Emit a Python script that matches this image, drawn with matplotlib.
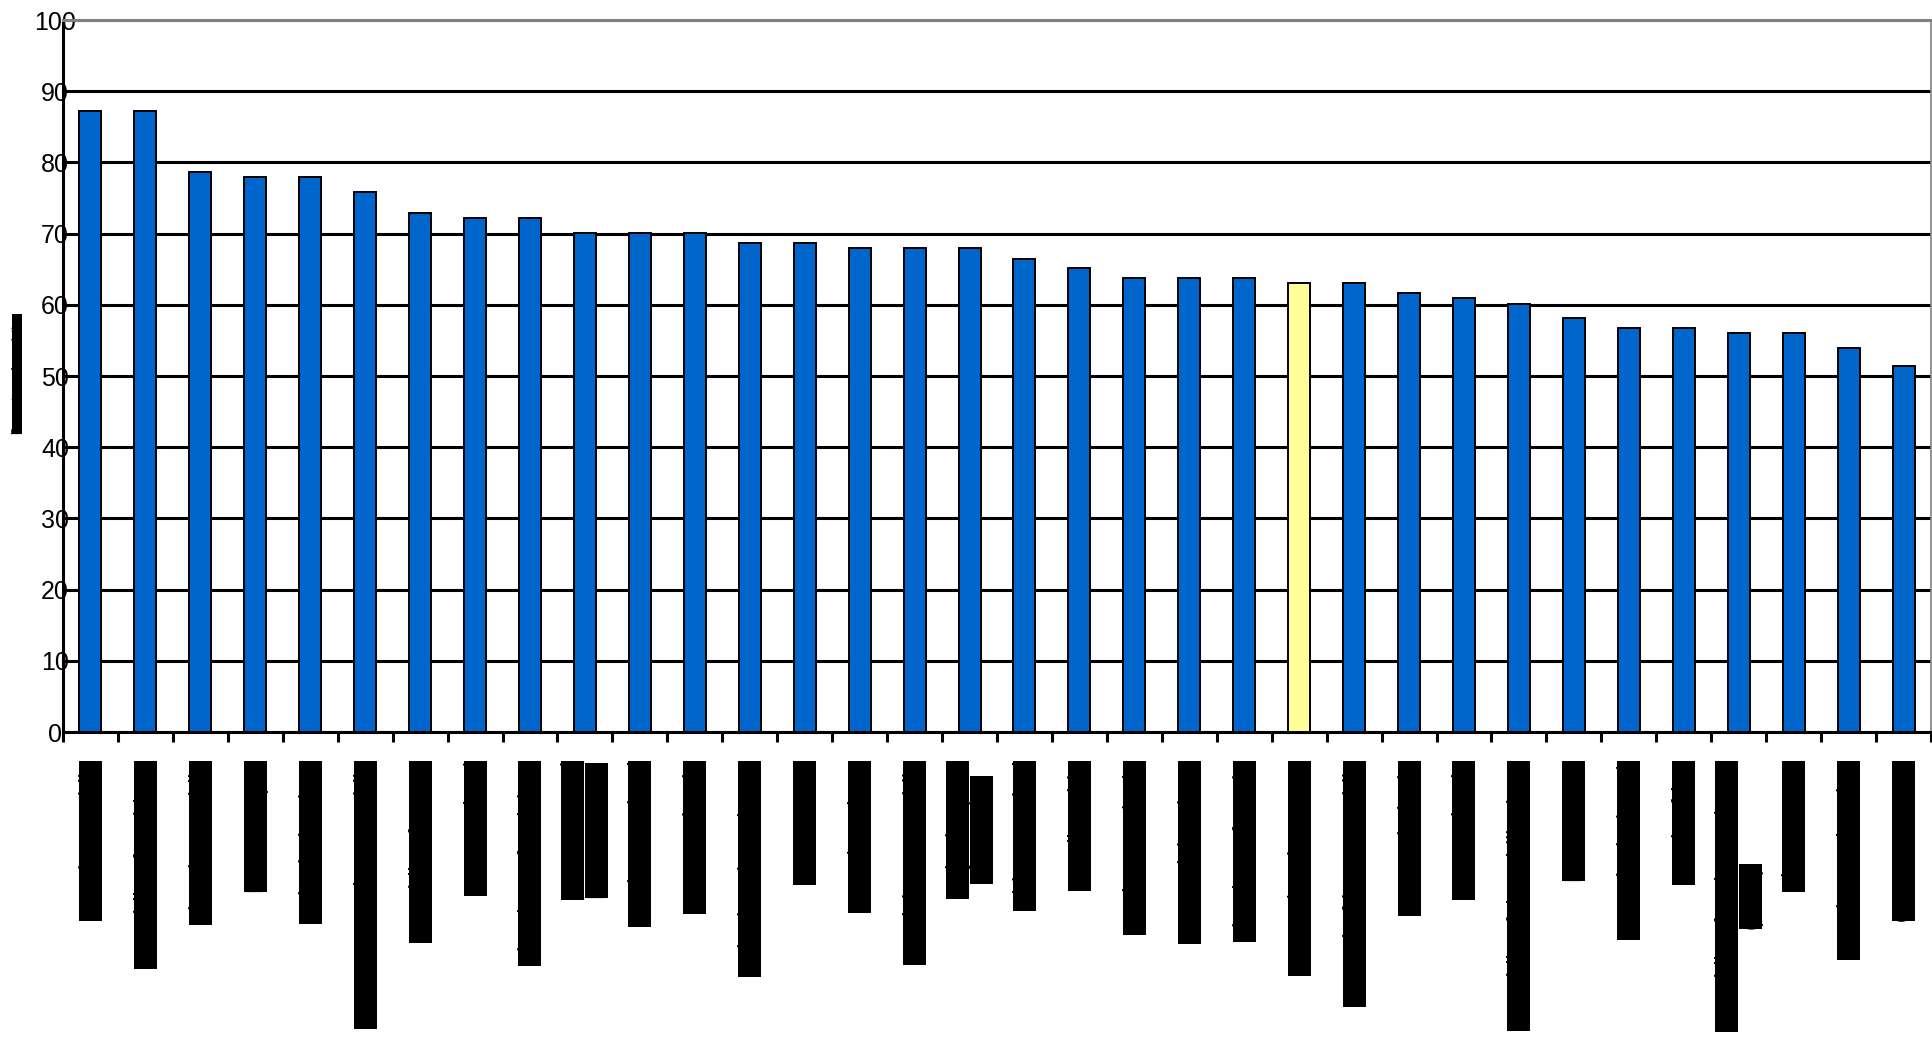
import numpy as np
import matplotlib
matplotlib.use("Agg")
import matplotlib.pyplot as plt

plt.rcParams['font.family'] = ['Liberation Sans', 'DejaVu Sans']

categories = [
    "Czech Republic", "Republic of Moldova", "Slovak Republic", "Mozambique",
    "United Kingdom", "Former Yugoslav Republic", "Republic of Korea", "New Zealand",
    "Kingdom of Belgium", "Germany and\nLiechtenstein", "Northern Ireland", "Canary Islands",
    "United Arab Emirates", "Netherlands", "French Guiana", "Dominican Republic",
    "United States\nof America", "Chinese Taipei", "Saudi Arabia", "North Macedonia",
    "Equatorial Guinea", "Kingdom of Spain", "International average", "Central African Republic",
    "New Caledonia", "Faroe Islands", "Republic of the Philippines", "Kazakhstan",
    "Macedonia (FYR)", "South Africa", "Republic of Guinea-Bissau\n(GNB)", "Sierra Leone",
    "Russian Federation", "Czechoslovakia",
]
values = [
    87.2, 87.2, 78.7, 78.0, 78.0, 75.8, 72.9, 72.2, 72.2, 70.1, 70.1, 70.1,
    68.7, 68.7, 68.0, 68.0, 68.0, 66.5, 65.2, 63.7, 63.7, 63.7, 63.0, 63.0,
    61.6, 60.9, 60.1, 58.1, 56.8, 56.8, 56.0, 56.0, 54.0, 51.4,
]
highlight = "International average"
y_ticks = list(range(0, 101, 10))
y_label = "Percentage of population"

W, H = 1933, 1037
fig = plt.figure(figsize=(W / 100, H / 100), dpi=100)
ax = fig.add_axes([63 / W, 1 - 732 / H, (1931 - 63) / W, (732 - 20) / H])

x = np.arange(len(categories))
colors = ['#FFFF99' if c == highlight else '#0066CC' for c in categories]
ax.bar(x, values, width=0.4, color=colors, edgecolor='black', linewidth=1.4, zorder=3)

ax.set_xlim(-0.5, len(categories) - 0.5)
ax.set_ylim(0, 100)
ax.set_yticks(y_ticks)
ax.set_yticklabels([str(v) for v in y_ticks], fontsize=18)
for lbl in ax.get_yticklabels():
    lbl.set_ha('center')
ax.tick_params(axis='y', length=0, pad=5.8)
ax.yaxis.grid(True, color='black', linewidth=2.2)
ax.set_axisbelow(True)
ax.get_ygridlines()[-1].set_color('#808080')

ax.set_xticks(x)
ax.set_xticklabels([])
ax.tick_params(axis='x', which='major', length=0)
ax.set_xticks(np.arange(-0.5, len(categories), 1), minor=True)
ax.tick_params(axis='x', which='minor', length=7.2, width=2.2, direction='out', color='black')

for side in ['left', 'bottom']:
    ax.spines[side].set_color('black')
    ax.spines[side].set_linewidth(2.2)
ax.spines['top'].set_color('#808080')
ax.spines['top'].set_linewidth(2.2)
ax.spines['right'].set_color('#808080')
ax.spines['right'].set_linewidth(1.2)

# category labels, rotated, each line drawn as a filled block
px2pt = 72 / 100
line_step = 24 * px2pt
for i, lab in enumerate(categories):
    block = ax.annotate(lab, xy=(i, 0), xycoords=('data', 'axes fraction'),
                        xytext=(0, -29 * px2pt), textcoords='offset points',
                        rotation=90, ha='center', va='top', multialignment='center',
                        fontsize=16.5, color='none', linespacing=1.0)
    lines = lab.split('\n')
    n = len(lines)
    for j, ln in enumerate(lines):
        ax.annotate(ln, xy=(0.5, 0.5), xycoords=block,
                    xytext=((j - (n - 1) / 2) * line_step, 0), textcoords='offset points',
                    rotation=90, ha='center', va='center', fontsize=16.5, color='black',
                    bbox=dict(facecolor='black', edgecolor='none', pad=0))

fig.text(17 / W, 1 - 374 / H, y_label, rotation=90, ha='center', va='center',
         fontsize=7.7, color='black',
         bbox=dict(facecolor='black', edgecolor='none', pad=0))

fig.savefig('out.png', dpi=100)
